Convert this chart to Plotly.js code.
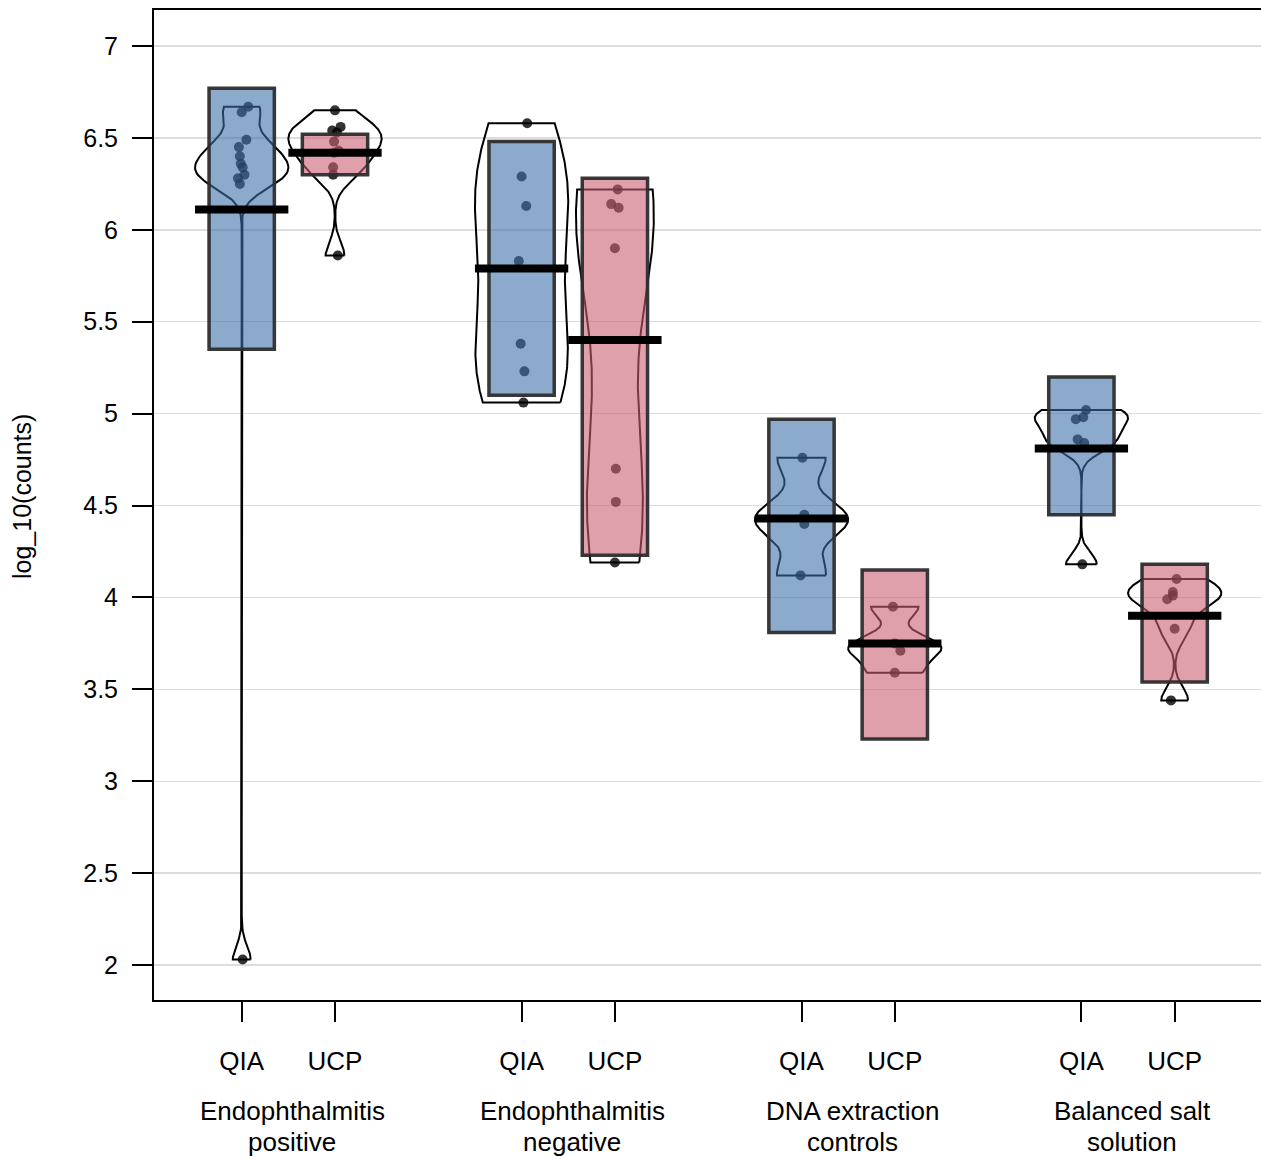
<!DOCTYPE html>
<html><head><meta charset="utf-8">
<script src="https://cdn.plot.ly/plotly-3.0.1.min.js"></script>
<style>html,body{margin:0;padding:0;background:#fff}</style>
</head><body><div id="chart" style="width:1261px;height:1156px"></div>
<script>
// ---------------- data ----------------
const groupLine1 = ["Endophthalmitis", "Endophthalmitis", "DNA extraction", "Balanced salt"];
const groupLine2 = ["positive", "negative", "controls", "solution"];
const methods = ["QIA", "UCP"];

// log_10(counts) of each sample, one array per bean
const endoPos_QIA  = [6.67, 6.64, 6.49, 6.45, 6.40, 6.36, 6.34, 6.30, 6.28, 6.25, 2.03];
const endoPos_UCP  = [6.65, 6.56, 6.54, 6.53, 6.48, 6.43, 6.42, 6.34, 6.30, 5.86];
const endoNeg_QIA  = [6.58, 6.29, 6.13, 5.83, 5.38, 5.23, 5.06];
const endoNeg_UCP  = [6.22, 6.14, 6.12, 5.90, 4.70, 4.52, 4.19];
const dnaCtrl_QIA  = [4.76, 4.45, 4.40, 4.12];
const dnaCtrl_UCP  = [3.95, 3.75, 3.71, 3.59];
const bss_QIA      = [5.02, 4.98, 4.97, 4.86, 4.84, 4.18];
const bss_UCP      = [4.10, 4.03, 4.01, 3.99, 3.83, 3.44];

// horizontal jitter of each point (x units) as seen in the picture
const endoPos_QIA_jit = [0.07, 0, 0.05, -0.03, -0.02, -0.01, 0.01, 0.03, -0.04, -0.02, 0.01];
const endoPos_UCP_jit = [0, 0.06, -0.03, 0.02, -0.01, 0.04, -0.01, -0.02, -0.02, 0.03];
const endoNeg_QIA_jit = [0.06, 0, 0.05, -0.03, -0.01, 0.03, 0.02];
const endoNeg_UCP_jit = [0.03, -0.04, 0.04, 0, 0.01, 0.01, 0];
const dnaCtrl_QIA_jit = [0.01, 0.03, 0.03, -0.01];
const dnaCtrl_UCP_jit = [-0.02, 0, 0.06, 0];
const bss_QIA_jit     = [0.05, 0.02, -0.06, -0.04, 0.03, 0.01];
const bss_UCP_jit     = [0.02, -0.02, -0.02, -0.08, 0, -0.04];

// average line and inference band of each bean (order: group x method)
const beanMeans = [6.11, 6.42, 5.79, 5.40, 4.43, 3.75, 4.81, 3.90];
const bandLow   = [5.35, 6.30, 5.10, 4.23, 3.81, 3.23, 4.45, 3.54];
const bandHigh  = [6.77, 6.52, 6.48, 6.28, 4.97, 4.15, 5.20, 4.18];

const yTicks = [2, 2.5, 3, 3.5, 4, 4.5, 5, 5.5, 6, 6.5, 7];
const yTickText = ["2", "2.5", "3", "3.5", "4", "4.5", "5", "5.5", "6", "6.5", "7"];

// ---------------- build ----------------
const beanData = [endoPos_QIA, endoPos_UCP, endoNeg_QIA, endoNeg_UCP, dnaCtrl_QIA, dnaCtrl_UCP, bss_QIA, bss_UCP];
const beanJit  = [endoPos_QIA_jit, endoPos_UCP_jit, endoNeg_QIA_jit, endoNeg_UCP_jit, dnaCtrl_QIA_jit, dnaCtrl_UCP_jit, bss_QIA_jit, bss_UCP_jit];
const pos = [];
for (let g = 0; g < groupLine1.length; g++) for (let m = 0; m < methods.length; m++) pos.push(g * 3 + m + 1);

const FONT = "Liberation Sans, Arial, Helvetica, sans-serif";
const fillCols = ["rgba(57,111,169,0.59)", "rgba(201,94,114,0.59)"];

function bwNrd0(x) {
  const n = x.length;
  const m = x.reduce((a, b) => a + b, 0) / n;
  const sd = Math.sqrt(x.reduce((a, b) => a + (b - m) * (b - m), 0) / (n - 1));
  const s = x.slice().sort((a, b) => a - b);
  const q = p => { const h = (n - 1) * p, lo = Math.floor(h); return lo + 1 < n ? s[lo] + (h - lo) * (s[lo + 1] - s[lo]) : s[lo]; };
  let lo = Math.min(sd, (q(0.75) - q(0.25)) / 1.34);
  if (!(lo > 0)) lo = sd || Math.abs(s[0]) || 1;
  return 0.9 * lo * Math.pow(n, -0.2);
}
function dens(x, bw, t) {
  let s = 0;
  for (const xi of x) { const z = (t - xi) / bw; s += Math.exp(-0.5 * z * z); }
  return s / (x.length * bw * Math.sqrt(2 * Math.PI));
}

const traces = [];
// beans
beanData.forEach((d, i) => {
  const bw = bwNrd0(d);
  const mn = Math.min(...d), mx = Math.max(...d);
  const from = mn - 3 * bw, to = mx + 3 * bw;
  let maxD = 0;
  const ys = [mn];
  for (let k = 0; k < 512; k++) {
    const t = from + (to - from) * k / 511;
    const v = dens(d, bw, t);
    if (v > maxD) maxD = v;
    if (t > mn && t < mx) ys.push(t);
  }
  ys.push(mx);
  let sc = 1;
  if (maxD < 0.3) sc = 0.3 / maxD;
  if (maxD > 0.5) sc = 0.5 / maxD;
  const w = ys.map(t => dens(d, bw, t) * sc);
  const bx = [], by = [];
  ys.forEach((t, k) => { bx.push(pos[i] + w[k]); by.push(t); });
  for (let k = ys.length - 1; k >= 0; k--) { bx.push(pos[i] - w[k]); by.push(ys[k]); }
  bx.push(bx[0]); by.push(by[0]);
  traces.push({type: "scatter", mode: "lines", x: bx, y: by, xaxis: "x", yaxis: "y",
    line: {color: "#000", width: 2}, hoverinfo: "skip", showlegend: false});
});
// points
const px = [], py = [];
beanData.forEach((d, i) => d.forEach((v, k) => { px.push(pos[i] + beanJit[i][k]); py.push(v); }));
traces.push({type: "scatter", mode: "markers", x: px, y: py, xaxis: "x", yaxis: "y",
  marker: {size: 10, color: "rgba(0,0,0,0.8)", line: {width: 0}}, showlegend: false});
// inference bands (overlay axes so they sit above beans and points)
traces.push({type: "bar", x: pos, y: bandHigh.map((h, i) => h - bandLow[i]), base: bandLow,
  xaxis: "x2", yaxis: "y2", width: 0.7,
  marker: {color: pos.map((p, i) => fillCols[i % 2]), line: {color: "rgba(45,45,45,0.95)", width: 3.5}},
  showlegend: false});
// average lines
const mx = [], my = [];
beanMeans.forEach((m, i) => { mx.push(pos[i] - 0.5, pos[i] + 0.5, null); my.push(m, m, null); });
traces.push({type: "scatter", mode: "lines", x: mx, y: my, xaxis: "x2", yaxis: "y2",
  line: {color: "#000", width: 8}, showlegend: false});

const xr = [0.06, 11.925], yr = [1.81, 7.196];
const annotations = [];
groupLine1.forEach((g, gi) => {
  annotations.push({text: g, xref: "x", yref: "paper", x: gi * 3 + 1.5, y: 0, yanchor: "middle", xanchor: "center",
    xshift: 4, yshift: -111, showarrow: false, font: {family: FONT, size: 26, color: "#000"}});
  annotations.push({text: groupLine2[gi], xref: "x", yref: "paper", x: gi * 3 + 1.5, y: 0, yanchor: "middle", xanchor: "center",
    xshift: 4, yshift: -142, showarrow: false, font: {family: FONT, size: 26, color: "#000"}});
});
annotations.push({text: "log_10(counts)", xref: "paper", yref: "paper", x: 0, y: (1000 - 497) / 990,
  xanchor: "center", yanchor: "middle", xshift: -132, textangle: -90, showarrow: false,
  font: {family: FONT, size: 25, color: "#000"}});

const layout = {
  width: 1261, height: 1156,
  margin: {l: 154, r: 0, t: 10, b: 156},
  paper_bgcolor: "#fff", plot_bgcolor: "#fff",
  showlegend: false,
  barmode: "overlay",
  font: {family: FONT, color: "#000"},
  xaxis: {range: xr, tickmode: "array", tickvals: pos, ticktext: pos.map((p, i) => methods[i % 2]),
    ticks: "outside", ticklen: 20, tickwidth: 2, tickcolor: "#000", ticklabelstandoff: 17,
    showline: true, linecolor: "#000", linewidth: 2, mirror: true, showgrid: false, zeroline: false,
    tickfont: {family: FONT, size: 26, color: "#000"}, fixedrange: true},
  yaxis: {range: yr, tickmode: "array", tickvals: yTicks, ticktext: yTickText,
    ticks: "outside", ticklen: 20, tickwidth: 2, tickcolor: "#000", ticklabelstandoff: 9,
    showline: true, linecolor: "#000", linewidth: 2, mirror: true,
    showgrid: true, gridcolor: "#dddddd", gridwidth: 1.5, zeroline: false,
    tickfont: {family: FONT, size: 25, color: "#000"}, fixedrange: true},
  xaxis2: {range: xr, overlaying: "x", visible: false, fixedrange: true},
  yaxis2: {range: yr, overlaying: "y", visible: false, fixedrange: true},
  annotations: annotations
};
Plotly.newPlot("chart", traces, layout, {staticPlot: true, displayModeBar: false});
</script></body></html>
